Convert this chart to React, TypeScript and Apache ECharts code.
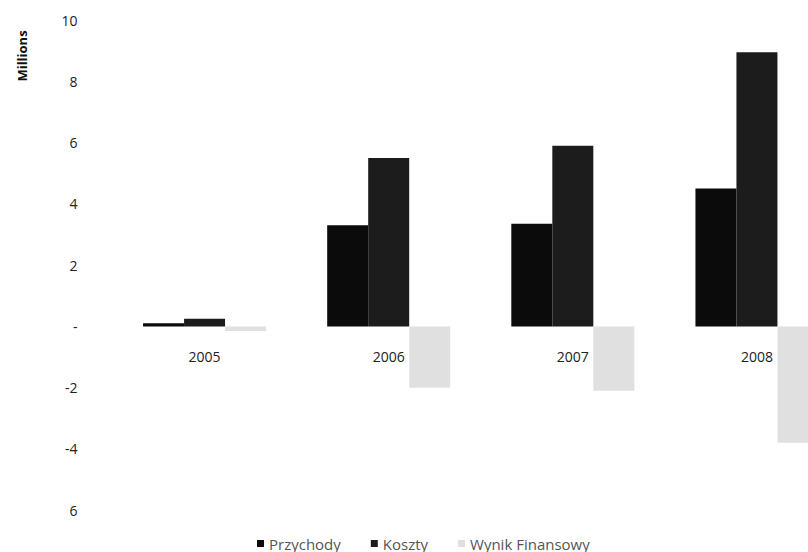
import React, { useEffect, useRef } from "react";
import * as echarts from "echarts";

const categories = ["2005", "2006", "2007", "2008"];
const przychody = [0.1, 3.3, 3.35, 4.5];
const koszty = [0.25, 5.5, 5.9, 8.95];
const wynik = [-0.15, -2.0, -2.1, -3.8];
const yTickValues = [-6, -4, -2, 0, 2, 4, 6, 8, 10];
const yTickLabels = ["6", "-4", "-2", "-", "2", "4", "6", "8", "10"];
const seriesNames = ["Przychody", "Koszty", "Wynik Finansowy"];

const Y_MIN = -6;
const Y_MAX = 10;
const GRID_TOP = 20;
const GRID_BOTTOM = 41.75;
const CHART_H = 552;
const CHART_W = 849;

export default function App() {
  const ref = useRef<HTMLDivElement>(null);
  useEffect(() => {
    if (!ref.current) return;
    const chart = echarts.init(ref.current, null, { renderer: "svg" });
    const font = "'Open Sans', Lato, sans-serif";
    const plotH = CHART_H - GRID_TOP - GRID_BOTTOM;
    const zeroOffset = -(plotH * (0 - Y_MIN)) / (Y_MAX - Y_MIN);
    chart.setOption({
      animation: false,
      backgroundColor: "#ffffff",
      grid: { left: 112.5, right: 0, top: GRID_TOP, bottom: GRID_BOTTOM },
      legend: {
        left: 252,
        top: 531,
        itemWidth: 7,
        itemHeight: 7,
        itemGap: 30,
        icon: "rect",
        textStyle: { color: "#555", fontSize: 15, fontFamily: font },
        data: seriesNames,
      },
      graphic: [
        {
          type: "text",
          x: 22,
          y: 56,
          rotation: Math.PI / 2,
          style: {
            text: "Millions",
            fill: "#111",
            font: "bold 13px " + font,
            textAlign: "center",
            textVerticalAlign: "middle",
          },
        },
      ],
      xAxis: {
        type: "category",
        data: categories,
        offset: zeroOffset,
        axisLine: { show: false, onZero: false },
        axisTick: { show: false },
        axisLabel: { margin: 23, color: "#222", fontSize: 14, fontFamily: font },
        splitLine: { show: false },
      },
      yAxis: {
        type: "value",
        min: Y_MIN,
        max: Y_MAX,
        interval: 2,
        axisLine: { show: false },
        axisTick: { show: false },
        splitLine: { show: false },
        axisLabel: {
          margin: 35,
          color: "#222",
          fontSize: 14,
          fontFamily: font,
          formatter: (v: number) => {
            const i = yTickValues.indexOf(v);
            return i >= 0 ? yTickLabels[i] : String(v);
          },
        },
      },
      series: [
        {
          name: seriesNames[0],
          type: "bar",
          data: przychody,
          barWidth: 41,
          barGap: "0%",
          itemStyle: { color: "#0b0b0b" },
        },
        {
          name: seriesNames[1],
          type: "bar",
          data: koszty,
          barWidth: 41,
          barGap: "0%",
          itemStyle: { color: "#1c1c1c" },
        },
        {
          name: seriesNames[2],
          type: "bar",
          data: wynik,
          barWidth: 41,
          barGap: "0%",
          itemStyle: { color: "#e0e0e0" },
        },
      ],
    });
    return () => chart.dispose();
  }, []);
  return (
    <div style={{ width: 808, height: CHART_H, position: "absolute", left: 0, top: 0, overflow: "hidden" }}>
      <div ref={ref} style={{ width: CHART_W, height: CHART_H }} />
    </div>
  );
}
